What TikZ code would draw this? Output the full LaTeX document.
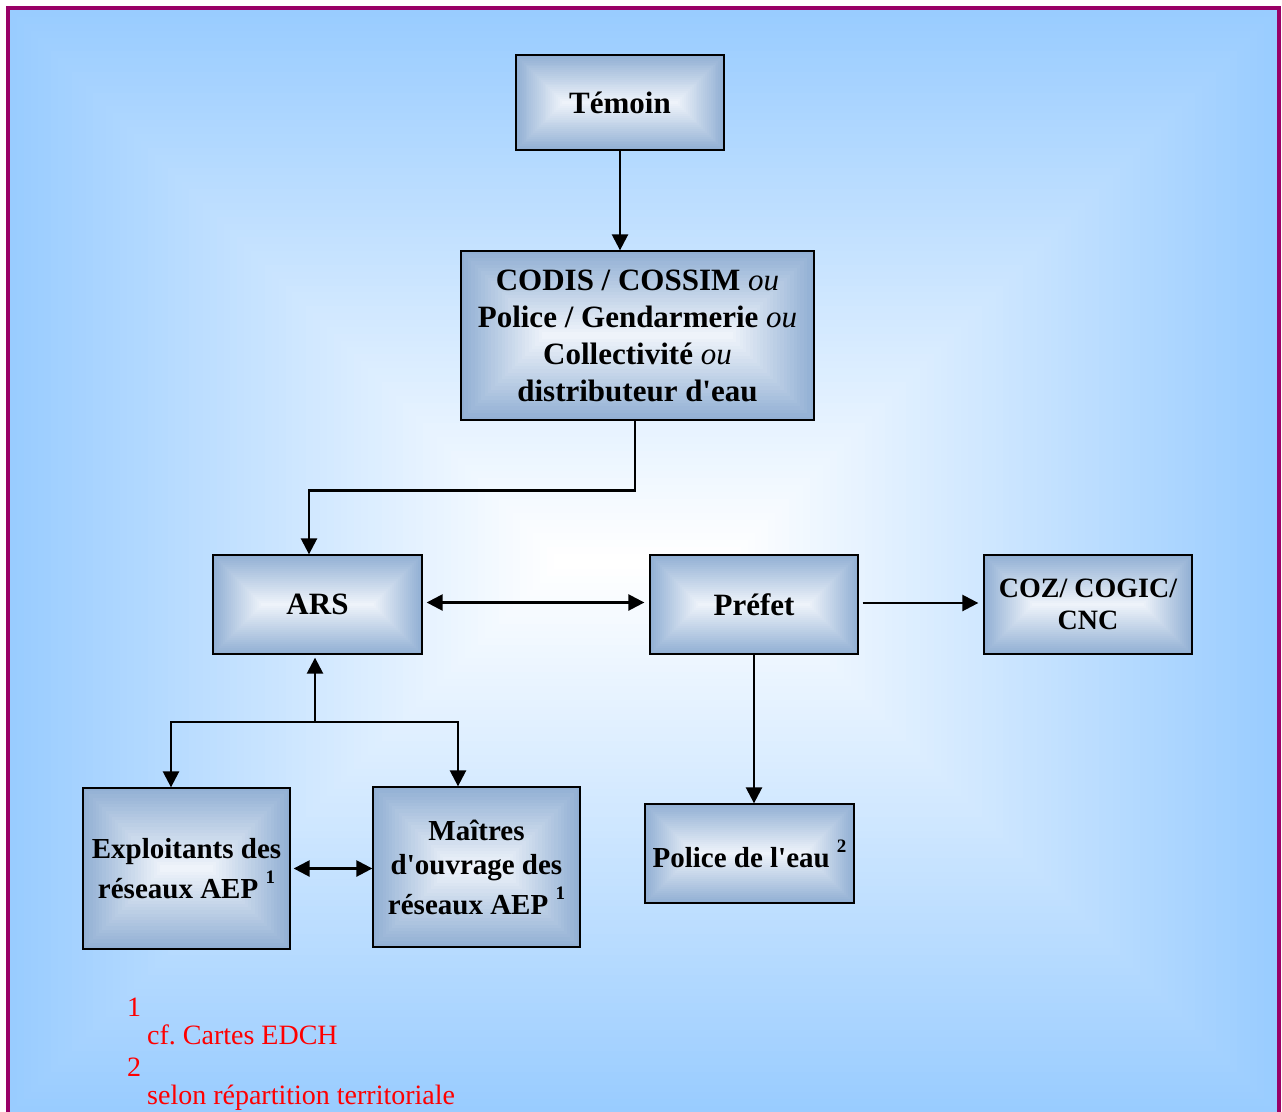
\documentclass[tikz,border=0pt]{standalone}
\usepackage{fontspec}
\newfontfamily\tnr{Liberation Serif}
\usetikzlibrary{arrows.meta,calc}
\definecolor{bgblue}{RGB}{153,204,255}
\definecolor{framecol}{RGB}{153,0,102}
\definecolor{boxedge}{RGB}{146,176,212}
\definecolor{boxmid}{RGB}{238,243,250}
\newcommand{\supnum}[1]{\raisebox{15pt}{\fontsize{19}{19}\selectfont #1}}
\tikzset{
  box/.style={draw=black, line width=1.3pt, inner sep=0pt, align=center,
    font=\tnr\bfseries\fontsize{29}{34}\selectfont,
    path picture={
      \foreach \k in {0,...,24}{
        \pgfmathsetmacro\pp{100*\k/24}
        \fill[boxmid!\pp!boxedge] let \p1=(path picture bounding box.south west),
          \p2=(path picture bounding box.north east),
          \n1={(\y2-\y1)/50*\k} in
          ({\x1+\n1},{\y1+\n1}) rectangle ({\x2-\n1},{\y2-\n1});
      }
    }},
  big/.style={font=\tnr\bfseries\fontsize{31}{37}\selectfont},
  arr/.style={line width=2.5pt, -{Triangle[length=16pt,width=16pt]}},
  dbl/.style={line width=2.5pt, {Triangle[length=16pt,width=16pt]}-{Triangle[length=16pt,width=16pt]}},
  fn/.style={text=red, inner sep=0pt, anchor=base west, font=\tnr\fontsize{28}{32}\selectfont},
}
\begin{document}
\begin{tikzpicture}[x=1pt,y=-1pt]
\useasboundingbox (0,0) rectangle (1282,1111);
\clip (0,0) rectangle (1282,1111);
\fill[white] (0,0) rectangle (1282,1111);
% background rectangular gradient
\foreach \k in {0,...,79}{
  \pgfmathsetmacro\pp{100/79*\k}
  \pgfmathsetmacro\dd{6.8875*\k}
  \fill[white!\pp!bgblue] (10+\dd,10+\dd) rectangle (1278-\dd,1113-\dd);
}
\draw[framecol, line width=4pt] (8,8) rectangle (1279,1118);

% nodes
\node[box, big, minimum width=208pt, minimum height=95pt] (temoin) at (620,102.5) {Témoin};
\node[box, big, minimum width=353pt, minimum height=169pt] (codis) at (637.5,335.5)
  {CODIS / COSSIM {\mdseries\itshape ou}\\ Police / Gendarmerie {\mdseries\itshape ou}\\ Collectivité {\mdseries\itshape ou}\\ distributeur d'eau};
\node[box, big, minimum width=209pt, minimum height=99pt] (ars) at (317.5,604.5) {ARS};
\node[box, big, minimum width=208pt, minimum height=99pt] (prefet) at (754,604.5) {Préfet};
\node[box, font=\tnr\bfseries\fontsize{28}{32}\selectfont, minimum width=208pt, minimum height=99pt] (coz) at (1088,604.5) {COZ/ COGIC/\\ CNC};
\node[box, minimum width=207pt, minimum height=161pt] (expl) at (186.5,868.5) {Exploitants des\\[6pt] réseaux AEP \supnum{1}};
\node[box, minimum width=207pt, minimum height=160pt] (maitres) at (476.5,867) {Maîtres\\ d'ouvrage des\\[6pt] réseaux AEP \supnum{1}};
\node[box, minimum width=209pt, minimum height=99pt] (police) at (749.5,853.5) {Police de l'eau \supnum{2}};

% connectors
\draw[arr] (temoin.south) -- (temoin.south |- codis.north);
\draw[arr] ([xshift=-2.5pt]codis.south) -- ++(0,70) -| ([xshift=-8.5pt]ars.north);
\draw[dbl] ([xshift=4pt,yshift=2pt]ars.east) -- ([xshift=-5pt,yshift=2pt]prefet.west);
\draw[arr] ([xshift=4pt,yshift=1.5pt]prefet.east) -- ([xshift=-5pt,yshift=1.5pt]coz.west);
\draw[arr] (prefet.south) -- (prefet.south |- police.north);
\coordinate (j) at (315,722);
\draw[arr, shorten >=3pt] (j) -- (j |- ars.south);
\draw[arr] (j) -| ([xshift=-15.5pt]expl.north);
\draw[arr] (j) -| ([xshift=-18.5pt]maitres.north);
\draw[dbl] ([xshift=3pt]expl.east) -- (expl.east -| maitres.west);

% footnotes
\node[fn] (n1) at (127,1016) {1};
\node[fn] (t1) at (147,1044) {cf.\ Cartes EDCH};
\node[fn] (n2) at (127,1076) {2};
\node[fn] (t2) at (147,1104) {selon répartition territoriale};
\end{tikzpicture}
\end{document}
